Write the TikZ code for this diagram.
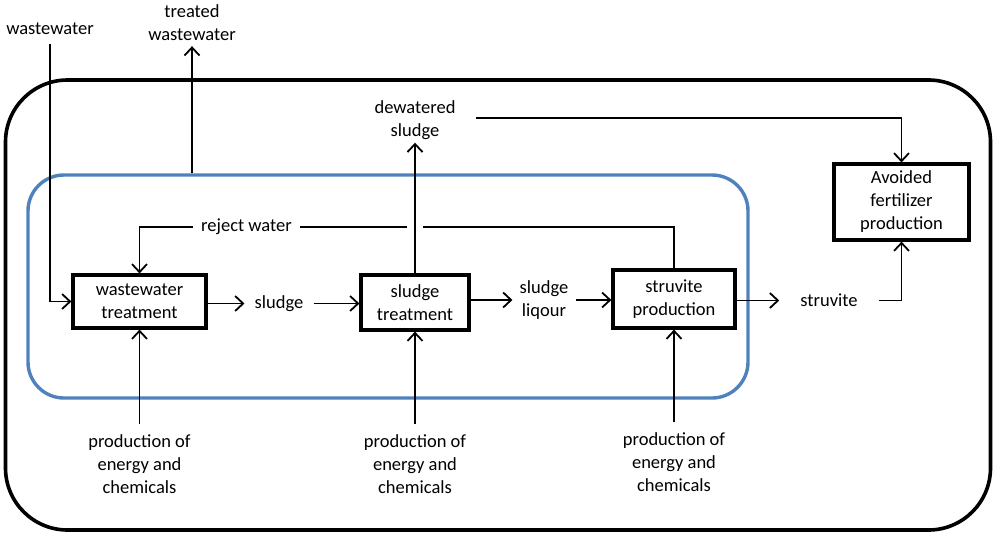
\documentclass[tikz,border=0pt]{standalone}
\usepackage{fontspec}
\setmainfont{Carlito}
\usetikzlibrary{arrows.meta}
\definecolor{sysblue}{RGB}{79,129,189}
\tikzset{
  unit/.style={draw, line width=3.2pt, align=center, inner sep=0pt},
  lbl/.style={align=center, inner sep=7pt},
  line/.style={line width=1.8pt},
  flow/.style={line, -{Straight Barb[length=8pt,width=15pt,line width=1.8pt]}},
}

\begin{document}
\begin{tikzpicture}[x=1pt, y=-1pt, font=\fontsize{18.5}{23}\selectfont]
  \useasboundingbox (0,0) rectangle (995,535);
  % boundaries
	\node [draw, line width=3.6pt, rounded corners=62pt, minimum width=985pt, minimum height=450pt] (outer) at (498,305) {};
	\node [draw=sysblue, line width=3.4pt, rounded corners=36pt, minimum width=720pt, minimum height=223pt] (inner) at (388,286.5) {};
  % units
	\node [unit, minimum width=133pt, minimum height=53pt] (wwt) at (139.5,301.5) {wastewater\\treatment};
	\node [unit, minimum width=108pt, minimum height=55pt] (st) at (415,302.5) {sludge\\treatment};
	\node [unit, minimum width=122pt, minimum height=58pt] (sp) at (674,299) {struvite\\production};
	\node [unit, minimum width=135pt, minimum height=76pt] (afp) at (901.5,202) {Avoided\\fertilizer\\production};
  % labels
	\node [lbl, inner sep=9pt] (ww) at (50,29) {wastewater};
	\node [lbl, inner sep=5pt] (tw) at (192,23) {treated\\wastewater};
	\node [lbl, inner xsep=20pt, inner ysep=3pt] (ds) at (415,120) {dewatered\\sludge};
	\node [lbl, inner sep=8pt] (rw) at (246.5,227) {reject water};
	\node [lbl, inner sep=10pt] (sl) at (279,303.5) {sludge};
	\node [lbl] (sq) at (544,300) {sludge\\liqour};
	\node [lbl, inner xsep=21pt] (sv) at (829,300.5) {struvite};
	\node [lbl, inner sep=10pt] (p1) at (139.5,464) {production of\\energy and\\chemicals};
	\node [lbl, inner sep=10pt] (p2) at (415,464) {production of\\energy and\\chemicals};
	\node [lbl, inner sep=10pt] (p3) at (674,462) {production of\\energy and\\chemicals};
	\coordinate (hopR) at (423,227);
	\coordinate (hopL) at (407,227);
  % flows
	\draw [flow] (ww.south) |- (wwt.west);
	\draw [flow] (inner.north -| tw.south) -- (tw.south);
	\draw [flow] (st.north) -- (ds.south);
	\draw [flow] ([yshift=2pt]ds.east) -| (afp.north);
	\draw [line] (sp.north) |- (hopR) (hopL) -- (rw.east);
	\draw [flow] (rw.west) -| (wwt.north);
	\draw [flow] (wwt.east |- sl) -- (sl.west);
	\draw [flow] (sl.east) -- (sl.east -| st.west);
	\draw [flow] (st.east |- sq) -- (sq.west);
	\draw [flow] (sq.east) -- (sq.east -| sp.west);
	\draw [flow] (sp.east |- sv) -- (sv.west);
	\draw [flow] (sv.east) -| (afp.south);
	\draw [flow] (p1.north) -- (wwt.south);
	\draw [flow] (p2.north) -- (st.south);
	\draw [flow] (p3.north) -- (sp.south);
\end{tikzpicture}
\end{document}
